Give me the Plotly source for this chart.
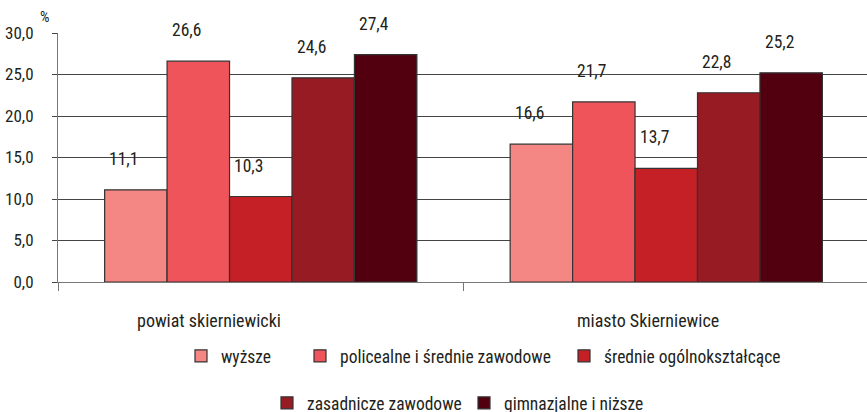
import plotly.graph_objects as go

categories = ["powiat skierniewicki", "miasto Skierniewice"]
series_names = ["wyższe", "policealne i średnie zawodowe", "średnie ogólnokształcące",
                "zasadnicze zawodowe", "gimnazjalne i niższe"]
values = {
    "wyższe": [11.1, 16.6],
    "policealne i średnie zawodowe": [26.6, 21.7],
    "średnie ogólnokształcące": [10.3, 13.7],
    "zasadnicze zawodowe": [24.6, 22.8],
    "gimnazjalne i niższe": [27.4, 25.2],
}
colors = ["#F48684", "#EF545A", "#C42026", "#961B22", "#520010"]
y_ticks = [0, 5, 10, 15, 20, 25, 30]

FONT = "Roboto Condensed, Liberation Sans Narrow, sans-serif"
TXT = "#231F20"

W, H = 867, 412
ml, mr, mt, mb = 58, 0, 33, 130
bargap = 0.23
plot_w = W - ml - mr + 4
cat_px = plot_w / 2.0
bar_px = cat_px * (1 - bargap) / len(series_names)

# legend entry placement (pixels): left edge, vertical centre
legend_pos = [(181, 356), (300, 356), (564, 356), (267, 403), (464, 403)]
# horizontal nudge of the category captions (pixels)
cat_label_shift = [-52, -18]

fig = go.Figure()
legend_layout = {}
for i, name in enumerate(series_names):
    lname = "legend" if i == 0 else f"legend{i + 1}"
    fig.add_trace(go.Bar(
        x=categories, y=values[name], name=name,
        marker=dict(color=colors[i], line=dict(color="#333333", width=1.2)),
        legend=lname,
        hoverinfo="skip",
    ))
    lx, ly = legend_pos[i]
    legend_layout[lname] = dict(
        orientation="h", xref="container", yref="container",
        x=lx / W, y=1 - ly / H, xanchor="left", yanchor="middle",
        font=dict(family=FONT, size=17.5, color=TXT), itemwidth=30,
        bgcolor="rgba(0,0,0,0)", borderwidth=0,
    )
    for j, c in enumerate(categories):
        v = values[name][j]
        fig.add_annotation(
            x=c, y=v, xref="x", yref="y",
            text=f"{v:.1f}".replace(".", ","),
            showarrow=False, yanchor="bottom", xanchor="center",
            xshift=(i - 2) * bar_px - 12, yshift=19,
            font=dict(family=FONT, size=17.5, color=TXT),
        )

for j, c in enumerate(categories):
    fig.add_annotation(
        x=c, y=0, xref="x", yref="y", text=c, showarrow=False,
        xanchor="center", yanchor="middle", xshift=cat_label_shift[j], yshift=-38,
        font=dict(family=FONT, size=18, color=TXT),
    )

fig.add_annotation(x=0, y=1, xref="paper", yref="paper", text="%",
                   showarrow=False, xanchor="right", yanchor="bottom",
                   xshift=-6, yshift=5,
                   font=dict(family=FONT, size=15, color=TXT))

fig.update_layout(
    width=W, height=H,
    margin=dict(l=ml, r=mr, t=mt, b=mb),
    paper_bgcolor="white", plot_bgcolor="white",
    barmode="group", bargap=bargap, bargroupgap=0,
    separators=", ",
    showlegend=True,
    font=dict(family=FONT, size=17, color=TXT),
    **legend_layout,
)
fig.update_xaxes(
    range=[-0.5, 1.495], showgrid=False, showline=True, linecolor="#777777", linewidth=1,
    ticks="outside", tickson="boundaries", ticklen=8, tickcolor="#777777",
    showticklabels=False, automargin=False,
)
fig.update_yaxes(
    range=[0, 30], tickvals=y_ticks, tickformat=".1f",
    showgrid=True, gridcolor="#444444", gridwidth=1,
    showline=True, linecolor="#777777", linewidth=1,
    ticks="outside", ticklen=5, tickcolor="#444444",
    ticklabelstandoff=15, automargin=False,
    tickfont=dict(family=FONT, size=17, color=TXT),
    zeroline=False,
)

fig.write_html("out.html", config={"displayModeBar": False},
               post_script="document.body.style.margin='0px';")
